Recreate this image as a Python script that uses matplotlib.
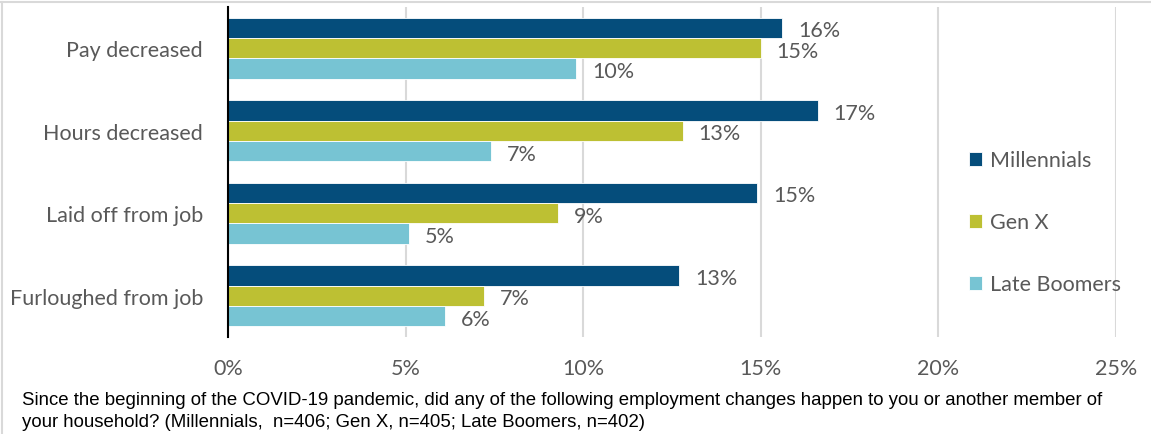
import numpy as np
import matplotlib
matplotlib.use('Agg')
import matplotlib.pyplot as plt
from matplotlib.lines import Line2D

# Data
categories = ['Pay decreased', 'Hours decreased', 'Laid off from job', 'Furloughed from job']
series = ['Millennials', 'Gen X', 'Late Boomers']
millennials = [15.6, 16.6, 14.9, 12.7]
gen_x = [15.0, 12.8, 9.3, 7.2]
late_boomers = [9.8, 7.4, 5.1, 6.1]
labels_mill = ['16%', '17%', '15%', '13%']
labels_genx = ['15%', '13%', '9%', '7%']
labels_lb = ['10%', '7%', '5%', '6%']
xticks = [0, 5, 10, 15, 20, 25]

colors = ['#054D7B', '#BDC033', '#77C4D3']
grey = '#595959'
font = 'Lato'
fs = 15.5

fig = plt.figure(figsize=(11.51, 4.35), dpi=100)
ax = fig.add_axes([228 / 1151, 1 - 338 / 435, (1116 - 228) / 1151, 330 / 435])

y = np.arange(len(categories))
h = 0.247
values = [millennials, gen_x, late_boomers]
texts = [labels_mill, labels_genx, labels_lb]
for i, (vals, labs) in enumerate(zip(values, texts)):
    pos = y + (i - 1) * h
    ax.barh(pos, vals, height=h, color=colors[i], label=series[i],
            edgecolor='white', linewidth=0.6, zorder=3)
    for p, v, t in zip(pos, vals, labs):
        ax.text(v + 0.45, p + 0.03, t, va='center', ha='left', fontsize=fs,
                color=grey, family=font)

ax.set_xlim(0, 25)
ax.set_ylim(len(categories) - 0.5, -0.5)
ax.set_yticks(y)
ax.set_yticklabels(categories, fontsize=fs, color=grey, family=font)
ax.set_xticks(xticks)
ax.set_xticklabels([f'{t}%' for t in xticks], fontsize=fs, color=grey, family=font)
ax.tick_params(axis='both', length=0)
ax.tick_params(axis='y', pad=18)
ax.tick_params(axis='x', pad=15)
ax.grid(axis='x', color='#D9D9D9', linewidth=1.5, zorder=0)
for s in ['top', 'right', 'bottom']:
    ax.spines[s].set_visible(False)
ax.spines['left'].set_color('black')
ax.spines['left'].set_linewidth(1.5)
ax.spines['left'].set_zorder(4)

leg = fig.legend(loc='upper left', bbox_to_anchor=(950 / 1151, 1 - 132 / 435),
                 frameon=False, prop={'family': font, 'size': fs},
                 handlelength=0.6, handleheight=0.6, handletextpad=0.35,
                 labelspacing=1.95)
for t in leg.get_texts():
    t.set_color(grey)

fig.text(22 / 1151, 1 - 401 / 435,
         'Since the beginning of the COVID-19 pandemic, did any of the following employment changes happen to you or another member of',
         fontsize=13.4, family='Liberation Sans', va='center', ha='left', color='black')
fig.text(22 / 1151, 1 - 423 / 435,
         'your household? (Millennials,  n=406; Gen X, n=405; Late Boomers, n=402)',
         fontsize=13.4, family='Liberation Sans', va='center', ha='left', color='black')

# thin frame lines at top and left
fig.add_artist(Line2D([0, 1], [1 - 3 / 435] * 2, color='#D9D9D9', lw=1.5, transform=fig.transFigure))
fig.add_artist(Line2D([2 / 1151] * 2, [0, 1 - 3 / 435], color='#D9D9D9', lw=1.5, transform=fig.transFigure))

fig.savefig('out.png', dpi=100)
